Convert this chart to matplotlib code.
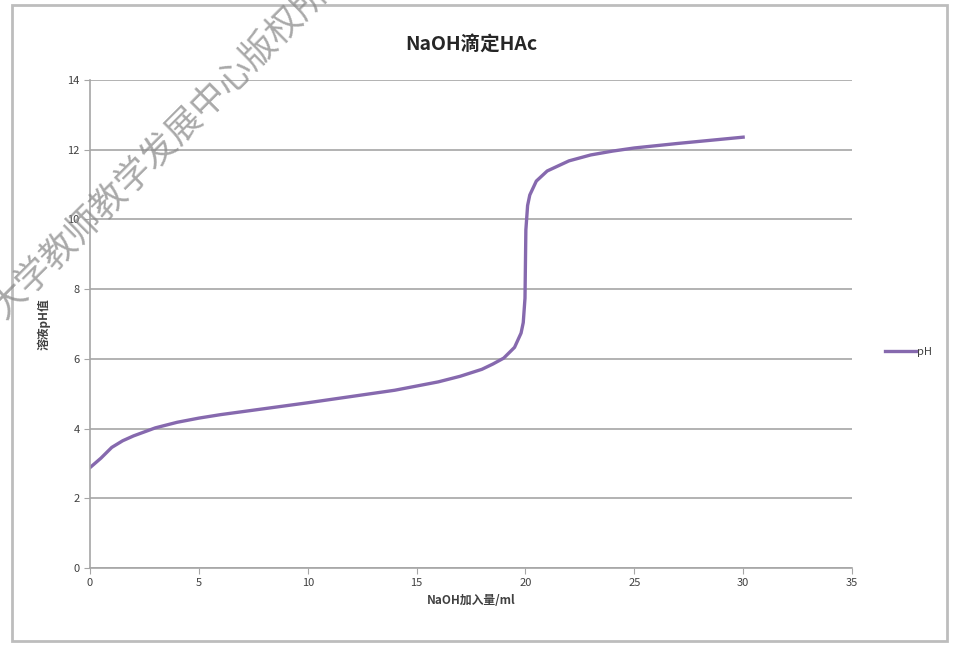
import matplotlib.pyplot as plt
from matplotlib.patches import Rectangle

plt.rcParams['font.family'] = ['Noto Sans CJK SC', 'DejaVu Sans']

# NaOH volume (ml) and pH
volume = [0, 0.5, 1, 1.5, 2, 3, 4, 5, 6, 8, 10, 12, 14, 15, 16, 17, 18, 18.5, 19, 19.5,
          19.8, 19.9, 19.98, 20, 20.02, 20.1, 20.2, 20.5, 21, 22, 23, 24, 25, 27, 30]
ph = [2.88, 3.15, 3.46, 3.65, 3.79, 4.02, 4.18, 4.3, 4.4, 4.57, 4.74, 4.92, 5.1, 5.22,
      5.34, 5.5, 5.7, 5.85, 6.02, 6.33, 6.74, 7.04, 7.74, 8.72, 9.7, 10.4, 10.7,
      11.1, 11.39, 11.68, 11.85, 11.96, 12.05, 12.18, 12.36]

fig = plt.figure(figsize=(9.54, 6.48), dpi=100)
fig.patches.append(Rectangle((12 / 954, 1 - 641 / 648), 935 / 954, 636 / 648,
                             transform=fig.transFigure, fill=False,
                             edgecolor='#bdbdbd', linewidth=2))

ax = fig.add_axes([90 / 954, 1 - 568 / 648, 762 / 954, 488 / 648])
ax.plot(volume, ph, color='#8669AE', linewidth=2.4, label='pH')

ax.set_xlim(0, 35)
ax.set_ylim(0, 14)
ax.set_xticks(range(0, 36, 5))
ax.set_yticks(range(0, 15, 2))
ax.grid(axis='y', color='#a6a6a6', linewidth=1.2)
ax.set_axisbelow(True)
for side in ['top', 'right']:
    ax.spines[side].set_visible(False)
for side in ['left', 'bottom']:
    ax.spines[side].set_color('#a6a6a6')
    ax.spines[side].set_linewidth(1.2)
ax.tick_params(colors='#a6a6a6', labelcolor='#404040', labelsize=8, length=4)

ax.set_title('NaOH滴定HAc', fontsize=14, fontweight='bold', color='#262626', pad=22)
ax.set_xlabel('NaOH加入量/ml', fontsize=8.5, fontweight='bold', color='#404040')
ax.set_ylabel('溶液pH值', fontsize=8.5, fontweight='bold', color='#404040', labelpad=12)

ax.legend(loc='center left', bbox_to_anchor=(1.03, 0.443), frameon=False,
          fontsize=8, handlelength=2.8, handletextpad=0.1, labelcolor='#404040')

# watermark, cut off by the image edges as in the source
fig.text(172 / 954, 1 - 138 / 648, '大学教师教学发展中心版权所有', rotation=45, fontsize=25.5,
         fontweight='light', color='#8c8c8c', alpha=0.75, ha='center', va='center')

fig.savefig('out.png', dpi=100)
